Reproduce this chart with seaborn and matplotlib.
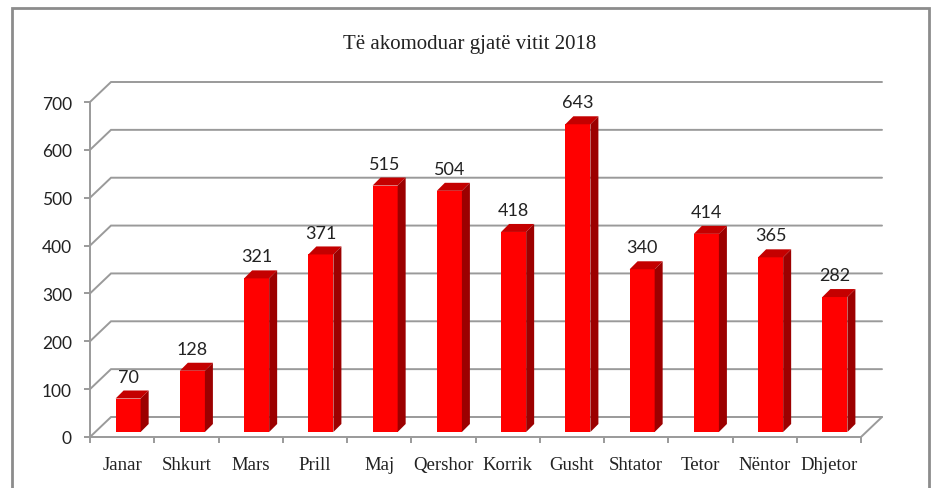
import numpy as np
import pandas as pd
import matplotlib
matplotlib.use("Agg")
import matplotlib.pyplot as plt
from matplotlib.patches import Polygon, Rectangle
import seaborn as sns

# data
months = ["Janar", "Shkurt", "Mars", "Prill", "Maj", "Qershor",
          "Korrik", "Gusht", "Shtator", "Tetor", "Nëntor", "Dhjetor"]
guests = [70, 128, 321, 371, 515, 504, 418, 643, 340, 414, 365, 282]
yticks = [0, 100, 200, 300, 400, 500, 600, 700]
title = "Të akomoduar gjatë vitit 2018"

W, H, DPI = 931, 489, 100
GRID = "#9a9a9a"
FRONT, TOP, SIDE = "#ff0000", "#c40000", "#9c0000"

sns.set_theme(style="white")
plt.rcParams["font.family"] = ["Liberation Serif", "DejaVu Serif"]

fig = plt.figure(figsize=(W / DPI, H / DPI), dpi=DPI)
# front plane of the 3-D box, in pixels: x 90..861, y 103..438
ax = fig.add_axes([90 / W, 51 / H, 771 / W, 335 / H])
ax.patch.set_alpha(0)

df = pd.DataFrame({"month": months, "guests": guests})
sns.barplot(data=df, x="month", y="guests", ax=ax, color=FRONT, width=0.39,
            saturation=1, linewidth=0, zorder=3)
ax.set_xlim(-0.5, len(months) - 0.5)
ax.set_ylim(0, 700)

# pixel -> data unit helpers
sx = 771 / len(months)
sy = 335 / 700


def dpx(dx, dy):
    return dx / sx, dy / sy


# back wall gridlines + left wall diagonals
gx, gy = dpx(21, 20)
x0, x1 = -0.5, len(months) - 0.5
for t in yticks:
    ax.plot([x0, x0 + gx, x1 + gx], [t, t + gy, t + gy], color=GRID, lw=1.4,
            clip_on=False, zorder=0, solid_joinstyle="miter")
# right edge of the floor
ax.plot([x1, x1 + gx], [0, gy], color=GRID, lw=1.4, clip_on=False, zorder=0)

# fake 3-D: shift bars back a little and add top / side faces
bx, by = dpx(6, 5)
ddx, ddy = dpx(8, 8)
for p, v in zip(ax.patches, guests):
    p.set_x(p.get_x() + bx)
    p.set_y(by)
    xa, xb = p.get_x(), p.get_x() + p.get_width()
    h = by + p.get_height()
    ax.add_patch(Polygon([(xa, h), (xb, h), (xb + ddx, h + ddy), (xa + ddx, h + ddy)],
                         closed=True, fc=TOP, ec="none", zorder=3, clip_on=False))
    ax.add_patch(Polygon([(xb, by), (xb + ddx, by + ddy), (xb + ddx, h + ddy), (xb, h)],
                         closed=True, fc=SIDE, ec="none", zorder=3, clip_on=False))
    ax.annotate(str(v), ((xa + xb) / 2, h), xytext=(0, 10), textcoords="offset points",
                ha="center", va="bottom", fontsize=13, family=["Lato", "DejaVu Sans"],
                color="#222222", annotation_clip=False)

# axes styling
for s in ["top", "right"]:
    ax.spines[s].set_visible(False)
for s in ["left", "bottom"]:
    ax.spines[s].set_color(GRID)
    ax.spines[s].set_linewidth(1.4)

ax.set_yticks(yticks)
ax.set_yticklabels([str(t) for t in yticks], family=["Lato", "DejaVu Sans"], fontsize=12.5)
ax.tick_params(axis="y", left=True, length=4, width=1.4, color=GRID, pad=9,
               labelcolor="#222222")
ax.set_xticks(range(len(months)))
ax.set_xticklabels(months, fontsize=13.5)
ax.set_xticks(np.arange(-0.5, len(months), 1), minor=True)
ax.tick_params(axis="x", which="major", length=0, pad=14, labelcolor="#222222")
ax.tick_params(axis="x", which="minor", bottom=True, length=4.5, width=1.4, color=GRID)
ax.set_xlabel("")
ax.set_ylabel("")

fig.text(470 / W, 1 - 44 / H, title, ha="center", va="center", fontsize=15,
         color="#222222")

# chart frame
fig.patches.append(Rectangle((11.5 / W, -0.1), 917 / W, 1.1 - 8.5 / H,
                             transform=fig.transFigure, fill=False,
                             ec="#8c8c8c", lw=2))

fig.savefig("out.png", dpi=DPI)
